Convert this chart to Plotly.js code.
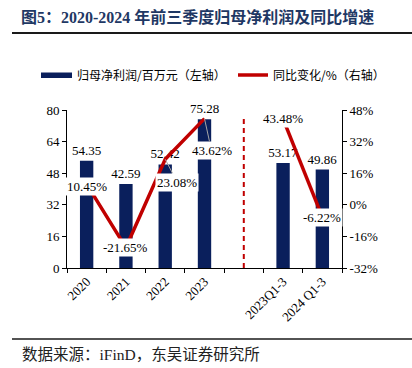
<!DOCTYPE html>
<html>
<head>
<meta charset="utf-8">
<script src="https://cdn.plot.ly/plotly-3.0.1.min.js"></script>
<style>html,body{margin:0;padding:0;background:#fff;}#chart{width:412px;height:368px;}</style>
</head>
<body>
<div id="chart"></div>
<script>
// ---- data ----
const categories = ['2020', '2021', '2022', '2023', ' ', '2023Q1-3', '2024 Q1-3'];
const profit = [54.35, 42.59, 52.42, 75.28, null, 53.17, 49.86];      // 归母净利润/百万元
const growth = [10.45, -21.65, 23.08, 43.62, null, 43.48, -6.22];     // 同比变化/%
const leftTicks = [0, 16, 32, 48, 64, 80];
const rightTicks = [-32, -16, 0, 16, 32, 48];
const seriesNames = ['归母净利润/百万元（左轴）', '同比变化/%（右轴）'];

// ---- styles ----
const NAVY = '#0a1f5c';
const RED = '#c00000';
const SERIF = '"Liberation Serif", "Times New Roman", serif';
const MIXED = '"Liberation Serif", "Noto Sans CJK SC", serif';
const CJK = '"Noto Sans CJK SC", sans-serif';
// label offsets (px) for growth labels: [ax, ay, arrow]
const labelOffsets = [[0, 2, false], [0, 0, false], [12, 23, true], [7, 32, true], null, [0, 0, false], [0, 0, false]];

// pixel -> paper helpers (plot area: x 67..342, y 110..268)
const PX = p => (p - 67) / 275;
const PY = p => (268 - p) / 158;

const barTrace = {
  type: 'bar', x: categories, y: profit, yaxis: 'y',
  marker: {color: NAVY, line: {width: 0}},
  width: 0.34,
  text: profit.map(v => v == null ? '' : v.toFixed(2)),
  textposition: 'outside', cliponaxis: false, constraintext: 'none',
  textfont: {family: SERIF, size: 13, color: '#000'},
  name: seriesNames[0], showlegend: false, hoverinfo: 'skip'
};
const lineTrace = {
  type: 'scatter', mode: 'lines', x: categories, y: growth, yaxis: 'y2',
  line: {color: RED, width: 3.5}, connectgaps: false,
  name: seriesNames[1], showlegend: false, hoverinfo: 'skip'
};

const annotations = [];
growth.forEach((v, i) => {
  if (v == null) return;
  const o = labelOffsets[i];
  const a = {
    x: i, y: v, xref: 'x', yref: 'y2',
    text: v.toFixed(2) + '%',
    font: {family: SERIF, size: 13, color: '#000'},
    bgcolor: '#fff', borderpad: 1
  };
  if (o[2]) {
    Object.assign(a, {showarrow: true, arrowhead: 0, arrowwidth: 1, arrowcolor: '#a6a6a6', ax: o[0], ay: o[1]});
  } else {
    Object.assign(a, {showarrow: false, xshift: o[0], yshift: -o[1]});
  }
  annotations.push(a);
});
// legend texts
annotations.push({xref: 'paper', yref: 'paper', x: PX(75), y: PY(75), xanchor: 'left', yanchor: 'middle',
  text: seriesNames[0], showarrow: false, font: {family: CJK, size: 12, color: '#000'}});
annotations.push({xref: 'paper', yref: 'paper', x: PX(271), y: PY(75), xanchor: 'left', yanchor: 'middle',
  text: seriesNames[1], showarrow: false, font: {family: CJK, size: 12, color: '#000'}});
// source
annotations.push({
  xref: 'paper', yref: 'paper', x: PX(20), y: PY(354), xanchor: 'left', yanchor: 'middle',
  text: '数据来源：iFinD，东吴证券研究所', showarrow: false,
  font: {family: MIXED, size: 15.5, color: '#222'}
});

const layout = {
  width: 412, height: 368,
  margin: {l: 67, r: 70, t: 110, b: 100},
  paper_bgcolor: '#fff', plot_bgcolor: '#fff',
  title: {
    text: '<b>图5：2020-2024 年前三季度归母净利润及同比增速</b>',
    xref: 'container', yref: 'container', x: 21 / 412, xanchor: 'left', y: 1 - 17 / 368, yanchor: 'middle',
    font: {family: MIXED, size: 16, color: '#1f3864'}
  },
  showlegend: false,
  bargap: 0.6,
  xaxis: {
    type: 'category', categoryorder: 'array', categoryarray: categories,
    range: [-0.5, categories.length - 0.5],
    showline: true, linecolor: '#000', linewidth: 1,
    ticks: 'outside', tickson: 'boundaries', ticklen: 4, tickcolor: '#000',
    tickangle: -45, tickfont: {family: SERIF, size: 13, color: '#000'},
    showgrid: false, zeroline: false, fixedrange: true
  },
  yaxis: {
    range: [0, 80], tickvals: leftTicks, ticktext: leftTicks.map(String),
    showline: true, linecolor: '#000', linewidth: 1,
    ticks: 'outside', ticklen: 4, tickcolor: '#000',
    tickfont: {family: SERIF, size: 13, color: '#000'},
    showgrid: false, zeroline: false
  },
  yaxis2: {
    range: [-32, 48], overlaying: 'y', side: 'right',
    tickvals: rightTicks, ticktext: rightTicks.map(v => v + '%'),
    showline: true, linecolor: '#000', linewidth: 1,
    ticks: 'outside', ticklen: 4, tickcolor: '#000',
    tickfont: {family: SERIF, size: 13, color: '#000'},
    showgrid: false, zeroline: false
  },
  shapes: [
    {type: 'line', xref: 'x', yref: 'y', x0: 4, x1: 4, y0: 0, y1: 76,
     line: {color: RED, width: 2, dash: '5px,4px'}},
    {type: 'line', xref: 'paper', yref: 'paper', x0: PX(12), x1: PX(412), y0: PY(33), y1: PY(33),
     line: {color: '#1a1a1a', width: 2}},
    {type: 'line', xref: 'paper', yref: 'paper', x0: PX(12), x1: PX(412), y0: PY(339), y1: PY(339),
     line: {color: '#1a1a1a', width: 1.5}},
    // legend symbols
    {type: 'rect', xref: 'paper', yref: 'paper', x0: PX(41), x1: PX(72), y0: PY(72.5), y1: PY(78),
     fillcolor: NAVY, line: {width: 0}},
    {type: 'line', xref: 'paper', yref: 'paper', x0: PX(238), x1: PX(268), y0: PY(75), y1: PY(75),
     line: {color: RED, width: 3.5}}
  ],
  annotations: annotations
};

Plotly.newPlot('chart', [barTrace, lineTrace], layout, {displayModeBar: false, staticPlot: true});
</script>
</body>
</html>
